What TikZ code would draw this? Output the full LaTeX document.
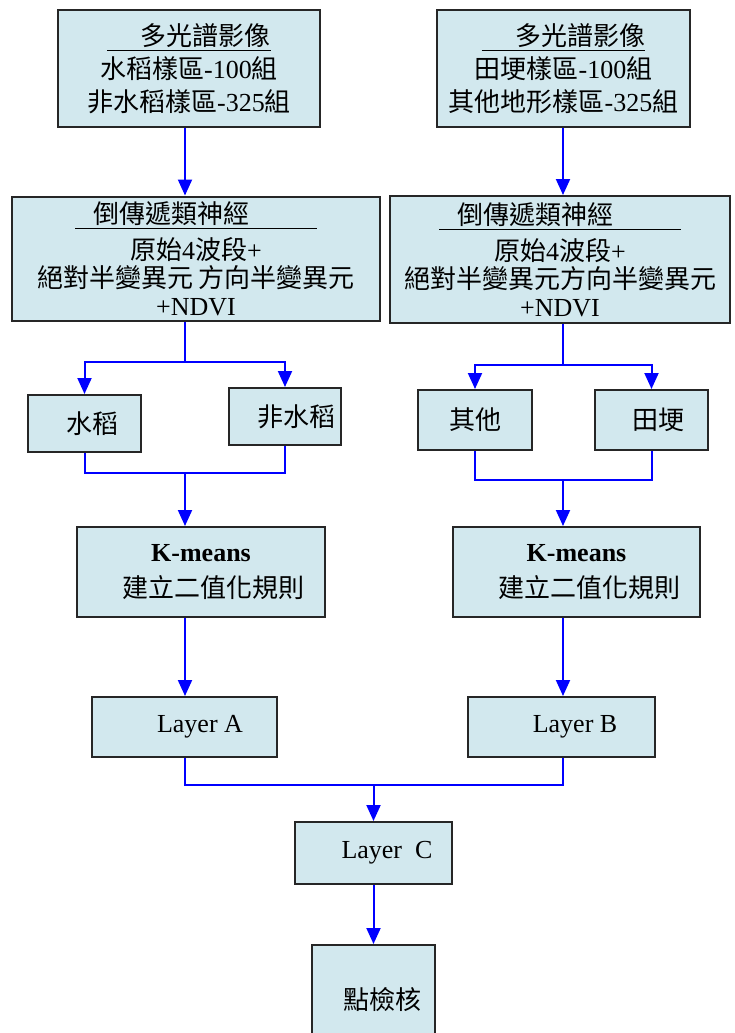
\documentclass[tikz,border=0pt]{standalone}
\usepackage{fontspec}
\setmainfont{Liberation Serif}
\newfontfamily\cjk{Noto Sans CJK TC}
\usepackage{tikz}
\usetikzlibrary{arrows.meta,calc,positioning}
\definecolor{boxfill}{RGB}{210,232,238}
\definecolor{flowblue}{RGB}{0,0,255}
\tikzset{%
	block/.style    = {draw=black!85, fill=boxfill, line width=1pt, rectangle, inner sep=0pt, align=center, font=\fontsize{13}{16.5}\selectfont},
	arrow/.style    = {draw=flowblue, line width=1pt, -{Triangle[length=8pt,width=7pt]}},
	link/.style     = {draw=flowblue, line width=1pt},
	waypoint/.style = {coordinate},
}

\begin{document}
\begin{tikzpicture}[x=0.5pt, y=-0.5pt]
	\useasboundingbox (0,0) rectangle (734,1033);
	% sample images
	\node[block, minimum width=131pt, minimum height=58.5pt] (imgL) at (189,68.5) {{\cjk\underline{\hspace{1.3em}多光譜影像}}\\{\cjk 水稻樣區}-100{\cjk 組}\\{\cjk 非水稻樣區}-325{\cjk 組}};
	\node[block, minimum width=126.5pt, minimum height=58.5pt] (imgR) at (563.5,68.5) {{\cjk\underline{\hspace{1.3em}多光譜影像}}\\{\cjk 田埂樣區}-100{\cjk 組}\\{\cjk 其他地形樣區}-325{\cjk 組}};
	% back-propagation network
	\node[block, minimum width=184pt, minimum height=62pt, font=\fontsize{13}{14}\selectfont] (bpL) at (196,258.5) {{\cjk\underline{\hspace{0.7em}倒傳遞類神經\hspace{2.6em}}}\\[3pt]{\cjk 原始}4{\cjk 波段}+\\{\cjk 絕對半變異元 方向半變異元}\\+NDVI};
	\node[block, minimum width=170pt, minimum height=63.5pt, font=\fontsize{13}{14}\selectfont] (bpR) at (560,259.5) {{\cjk\underline{\hspace{0.7em}倒傳遞類神經\hspace{2.6em}}}\\[3pt]{\cjk 原始}4{\cjk 波段}+\\{\cjk 絕對半變異元方向半變異元}\\+NDVI};
	% classes
	\node[block, minimum width=56.5pt, minimum height=28.5pt] (rice) at (84.5,423.5) {\hspace*{7.5pt}{\cjk 水稻}};
	\node[block, minimum width=56pt, minimum height=28.5pt] (nonrice) at (285,416.5) {\hspace*{11pt}{\cjk 非水稻}};
	\node[block, minimum width=57pt, minimum height=30pt] (other) at (475,420) {{\cjk 其他}};
	\node[block, minimum width=56.5pt, minimum height=30pt] (ridge) at (651.5,420) {\hspace*{6.5pt}{\cjk 田埂}};
	% k-means
	\node[block, minimum width=124pt, minimum height=45pt, font=\fontsize{13}{18}\selectfont] (kmL) at (201,572) {\textbf{K-means}\\\hspace*{1em}{\cjk 建立二值化規則}};
	\node[block, minimum width=123.5pt, minimum height=45pt, font=\fontsize{13}{18}\selectfont] (kmR) at (576.5,572) {\textbf{K-means}\\\hspace*{1em}{\cjk 建立二值化規則}};
	% layers
	\node[block, minimum width=92.5pt, minimum height=30pt] (layA) at (184.5,727) {\hspace*{15.5pt}Layer A};
	\node[block, minimum width=93.5pt, minimum height=30pt] (layB) at (561.5,727) {\hspace*{13.5pt}Layer B};
	\node[block, minimum width=78.5pt, minimum height=31pt] (layC) at (373.5,853) {\hspace*{13.5pt}Layer\ \ C};
	\node[block, minimum width=61.5pt, minimum height=55pt] (check) at (373.5,1000) {\hspace*{9pt}{\cjk 點檢核}};
	% waypoints
	\node[waypoint] (colL) at (185,0) {};
	\node[waypoint] (colR) at (563,0) {};
	\node[waypoint] (splitL) at (185,362) {};
	\node[waypoint] (splitR) at (563,365) {};
	\node[waypoint] (mergeL) at (185,473) {};
	\node[waypoint] (mergeR) at (563,480) {};
	\node[waypoint] (mergeM) at (373.5,785) {};
	% connectors
	\draw[arrow] (imgL.south -| colL) -- (bpL.north -| colL);
	\draw[arrow] (imgR.south -| colR) -- (bpR.north -| colR);
	\draw[link] (bpL.south -| colL) -- (splitL);
	\draw[arrow] (splitL) -| (rice.north);
	\draw[arrow] (splitL) -| (nonrice.north);
	\draw[link] (bpR.south -| colR) -- (splitR);
	\draw[arrow] (splitR) -| (other.north);
	\draw[arrow] (splitR) -| (ridge.north);
	\draw[link] (rice.south) |- (mergeL) -| (nonrice.south);
	\draw[link] (other.south) |- (mergeR) -| (ridge.south);
	\draw[arrow] (mergeL) -- (kmL.north -| mergeL);
	\draw[arrow] (mergeR) -- (kmR.north -| mergeR);
	\draw[arrow] (kmL.south -| colL) -- (layA.north -| colL);
	\draw[arrow] (kmR.south -| colR) -- (layB.north -| colR);
	\draw[link] (layA.south -| colL) |- (mergeM) -| (layB.south -| colR);
	\draw[arrow] (mergeM) -- (layC.north);
	\draw[arrow] (layC) -- (check);
\end{tikzpicture}
\end{document}
